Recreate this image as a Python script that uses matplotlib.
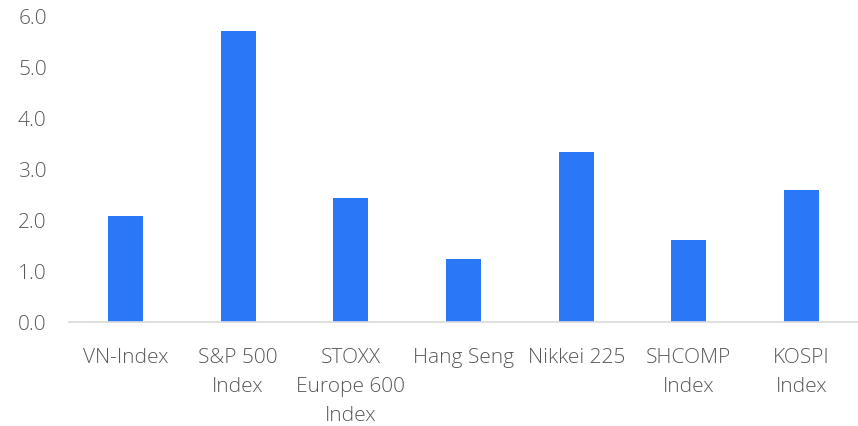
import matplotlib
matplotlib.use("Agg")
import matplotlib.pyplot as plt

categories = ["VN-Index", "S&P 500\nIndex", "STOXX\nEurope 600\nIndex", "Hang Seng",
              "Nikkei 225", "SHCOMP\nIndex", "KOSPI\nIndex"]
values = [2.08, 5.73, 2.44, 1.24, 3.35, 1.61, 2.60]
yticks = [0.0, 1.0, 2.0, 3.0, 4.0, 5.0, 6.0]

plt.rcParams['font.family'] = ['Open Sans', 'DejaVu Sans']
plt.rcParams['font.weight'] = 'light'

fig = plt.figure(figsize=(8.58, 4.26), dpi=100)
ax = fig.add_axes([69/858, 1-322/426, 1-69/858, (322-17)/426])
x = list(range(len(categories)))
ax.bar(x, values, width=0.31, color="#2A78F6")
ax.set_xlim(-0.5, len(categories)-0.5)
ax.set_ylim(0, 6.0)
ax.set_yticks(yticks)
ax.set_yticklabels([f"{v:.1f}" for v in yticks], fontweight='light')
ax.set_xticks(x)
ax.set_xticklabels(categories, linespacing=1.6, fontweight='light')
for s in ["top", "right", "left"]:
    ax.spines[s].set_visible(False)
ax.spines["bottom"].set_color("#D9D9D9")
ax.spines["bottom"].set_linewidth(1.2)
ax.tick_params(axis="both", length=0, labelsize=15, labelcolor="#595959")
ax.tick_params(axis="y", pad=16)
ax.tick_params(axis="x", pad=18.5)
fig.savefig("out.png", dpi=100)
